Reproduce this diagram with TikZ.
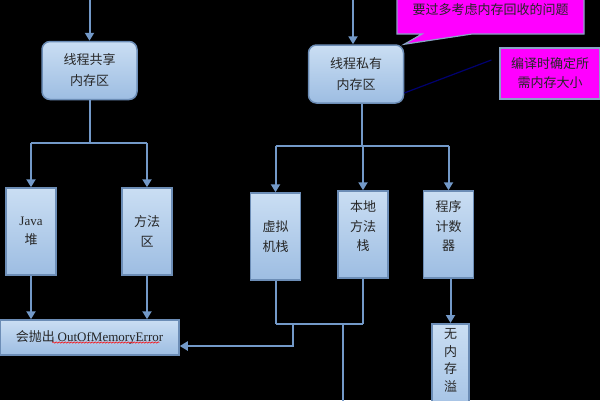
\documentclass[tikz,border=0pt]{standalone}
\usepackage{fontspec}
\setmainfont{Liberation Serif}
\newfontfamily\cjk{Noto Sans CJK SC}
\usetikzlibrary{arrows.meta,shapes.callouts,decorations.pathmorphing}
\definecolor{boxtop}{HTML}{CADEF3}
\definecolor{boxbot}{HTML}{9DBDE2}
\definecolor{boxedge}{HTML}{6C8DB6}
\definecolor{wirecol}{HTML}{7399C8}
\definecolor{notepink}{HTML}{FF00FF}
\definecolor{noteline}{HTML}{000070}
\tikzset{
	memarea/.style={draw=boxedge, line width=1.5pt, top color=boxtop, bottom color=boxbot,
		rounded corners=8pt, minimum width=95pt, minimum height=58pt, inner sep=0pt,
		align=center, text=black!85, font=\cjk\fontsize{13}{21}\selectfont},
	membox/.style={draw=boxedge, line width=1.5pt, top color=boxtop, bottom color=boxbot,
		minimum width=50pt, minimum height=87pt, inner sep=0pt,
		align=center, text=black!85, font=\cjk\fontsize{13}{19.5}\selectfont},
	wire/.style={draw=wirecol, line width=2pt},
	wirearrow/.style={wire, -{Triangle[width=9pt,length=8pt]}},
	note/.style={fill=notepink, draw=boxedge!80, line width=1.2pt, align=center,
		text=black!85, font=\cjk\fontsize{13}{19}\selectfont},
	spell/.style={draw=red, line width=0.5pt, decorate,
		decoration={snake, amplitude=0.7pt, segment length=3pt}},
}

\begin{document}
\begin{tikzpicture}[x=1pt, y=-1pt]
	%%%%% START %%%%%
	
	\useasboundingbox (0,0) rectangle (600,400);
	\fill[black] (0,0) rectangle (600,400);
	\clip (0,0) rectangle (600,400);
	
	% the two memory areas
	\node[memarea] (shared) at (89.5,70.5) {线程共享\\内存区};
	\node[memarea] (private) at (356,74) {线程私有\\内存区};
	
	\coordinate (srcshared) at (89.5,-5);
	\coordinate (srcprivate) at (353,-5);
	\draw[wirearrow] (srcshared) -- (shared);
	\draw[wirearrow] (srcprivate) -- (srcprivate |- private.north);
	
	% shared side
	\node[membox] (heap) at (31,231.5) {{\rmfamily Java}\\堆};
	\node[membox] (method) at (147,231.5) {方法\\区};
	\node[membox, minimum width=179pt, minimum height=35pt] (oom) at (89.5,337.5)
		{会抛出 {\rmfamily OutOfMemoryError}};
	\draw[spell] ([xshift=53pt,yshift=-5pt]oom.west) -- ++(107,0);
	
	\coordinate (sharedfork) at (89.5,143);
	\draw[wire] (shared) -- (sharedfork);
	\draw[wire] (sharedfork -| heap) -- (sharedfork -| method);
	\draw[wirearrow] (sharedfork -| heap) -- (heap);
	\draw[wirearrow] (sharedfork -| method) -- (method);
	\draw[wirearrow] (heap) -- (heap |- oom.north);
	\draw[wirearrow] (method) -- (method |- oom.north);
	
	% private side
	\node[membox] (vmstack) at (275.5,236.5) {虚拟\\机栈};
	\node[membox, text depth=17pt] (native) at (363,234.5) {本地\\方法\\栈};
	\node[membox, text depth=17pt] (pc) at (448.5,234.5) {程序\\计数\\器};
	\node[membox, anchor=north, minimum width=37pt, minimum height=0pt, inner ysep=5pt,
		text depth=30pt, font=\cjk\fontsize{13}{17.5}\selectfont] (nomem) at (450.5,323)
		{无\\内\\存\\溢};
	
	\coordinate (privfork) at (362,146);
	\draw[wire] (privfork |- private.south) -- (privfork);
	\draw[wire] (privfork -| vmstack) -- (privfork -| pc);
	\draw[wirearrow] (privfork -| vmstack) -- (vmstack);
	\draw[wirearrow] (privfork -| native) -- (native);
	\draw[wirearrow] (privfork -| pc) -- (pc);
	\draw[wirearrow] (nomem |- pc.south) -- (nomem.north);
	
	\coordinate (stackjoin) at (275.5,324);
	\coordinate (oomfeed) at (293,324);
	\coordinate (leakend) at (343,405);
	\draw[wire] (vmstack) -- (stackjoin);
	\draw[wire] (native) -- (native |- stackjoin);
	\draw[wire] (stackjoin) -- (native |- stackjoin);
	\draw[wirearrow] (oomfeed) |- ([yshift=-8.5pt]oom.east);
	\draw[wire] (leakend |- stackjoin) -- (leakend);
	
	% notes
	\node[note, rectangle callout, callout absolute pointer={(private.north east)},
		callout pointer width=50pt, minimum width=187pt, minimum height=48pt]
		(gcnote) at (490.5,10) {要过多考虑内存回收的问题};
	\node[note, minimum width=100pt, minimum height=51pt] (sizenote) at (550,73.5)
		{编译时确定所\\需内存大小};
	\draw[noteline, line width=1.2pt] ([shift={(-8pt,13.5pt)}]sizenote.west)
		-- ([yshift=-19pt]private.east);
	
	%%%%% END %%%%%
\end{tikzpicture}
\end{document}
